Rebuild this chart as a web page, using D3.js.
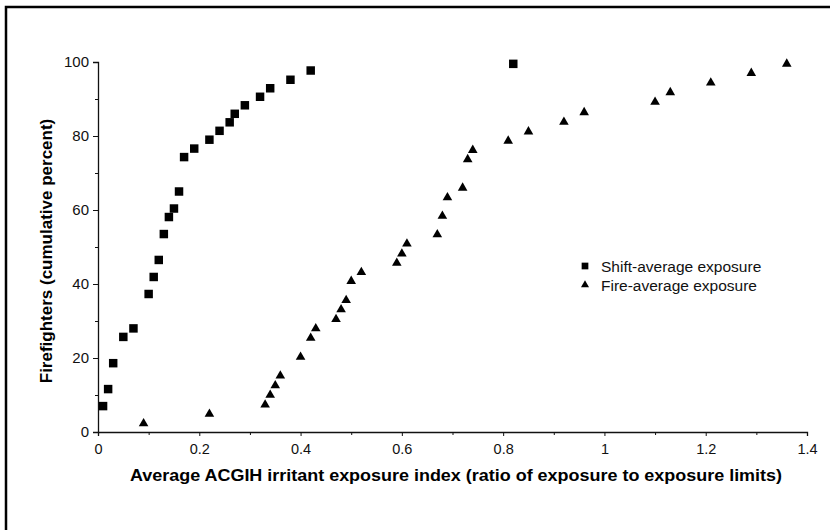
<!DOCTYPE html>
<html>
<head>
<meta charset="utf-8">
<script src="https://cdn.jsdelivr.net/npm/d3@7"></script>
<style>
  body { margin: 0; background: #fff; }
  svg { display: block; font-family: "Liberation Sans", Arial, sans-serif; }
</style>
</head>
<body>
<div id="svgTarget"></div>
<script>
// shift-average exposure (x = index, y = cumulative percent)
const shiftX = [0.01, 0.02, 0.03, 0.05, 0.07, 0.10, 0.11, 0.12, 0.13, 0.14, 0.15, 0.16,
  0.17, 0.19, 0.22, 0.24, 0.26, 0.27, 0.29, 0.32, 0.34, 0.38, 0.42, 0.82];
const shiftY = [7.0, 11.6, 18.6, 25.7, 28.0, 37.3, 41.9, 46.5, 53.5, 58.1, 60.4, 65.0,
  74.3, 76.6, 79.0, 81.4, 83.7, 86.0, 88.3, 90.6, 92.9, 95.2, 97.7, 99.5];

// fire-average exposure
const fireX = [0.09, 0.22, 0.33, 0.34, 0.35, 0.36, 0.40, 0.42, 0.43, 0.47, 0.48, 0.49,
  0.50, 0.52, 0.59, 0.60, 0.61, 0.67, 0.68, 0.69, 0.72, 0.73, 0.74, 0.81, 0.85, 0.92,
  0.96, 1.10, 1.13, 1.21, 1.29, 1.36];
const fireY = [2.5, 5.1, 7.6, 10.2, 12.8, 15.4, 20.5, 25.6, 28.2, 30.7, 33.3, 35.8,
  41.0, 43.4, 45.9, 48.4, 51.1, 53.6, 58.6, 63.6, 66.2, 73.9, 76.4, 78.9, 81.4, 84.0,
  86.6, 89.4, 92.0, 94.6, 97.2, 99.7];

const xTicks = [0, 0.2, 0.4, 0.6, 0.8, 1, 1.2, 1.4];
const xMinor = [0.1, 0.3, 0.5, 0.7, 0.9, 1.1, 1.3];
const yTicks = [0, 20, 40, 60, 80, 100];
const yMinor = [10, 30, 50, 70, 90];

const legendLabels = ["Shift-average exposure", "Fire-average exposure"];

const width = 830, height = 530;

const svg = d3.select("#svgTarget")
  .append("svg")
    .attr("width", width)
    .attr("height", height);

// frame round the figure (right and bottom edges run off the page)
svg.append("rect")
  .attr("x", 6)
  .attr("y", 7)
  .attr("width", 900)
  .attr("height", 600)
  .attr("fill", "none")
  .attr("stroke", "#000")
  .attr("stroke-width", 2.5);

const x = d3.scaleLinear().domain([0, 1.4]).range([98, 807]);
const y = d3.scaleLinear().domain([0, 100]).range([432, 62]);

// axes
const yAxis = svg.append("g")
  .attr("transform", `translate(${x(0)},0)`)
  .call(d3.axisLeft(y).tickValues(yTicks).tickSize(5).tickPadding(4).tickFormat(d3.format("d")));
yAxis.selectAll("text").attr("font-size", 15).attr("fill", "#111");

svg.append("g")
  .attr("transform", `translate(${x(0)},0)`)
  .call(d3.axisLeft(y).tickValues(yMinor).tickSize(3).tickFormat(""))
  .select(".domain").remove();

const xAxis = svg.append("g")
  .attr("transform", `translate(0,${y(0)})`)
  .call(d3.axisBottom(x).tickValues(xTicks).tickSize(4).tickPadding(8).tickFormat(d => d));
xAxis.selectAll("text").attr("font-size", 14.5).attr("fill", "#111");

svg.append("g")
  .attr("transform", `translate(0,${y(0)})`)
  .call(d3.axisBottom(x).tickValues(xMinor).tickSize(3).tickFormat(""))
  .select(".domain").remove();

svg.selectAll(".domain").attr("stroke", "#111").attr("stroke-width", 1.3);
svg.selectAll(".tick line").attr("stroke", "#111");

// axis titles
svg.append("text")
  .attr("x", 456)
  .attr("y", 481)
  .attr("text-anchor", "middle")
  .attr("font-size", 16)
  .attr("font-weight", "bold")
  .attr("textLength", 652)
  .attr("lengthAdjust", "spacingAndGlyphs")
  .text("Average ACGIH irritant exposure index (ratio of exposure to exposure limits)");

svg.append("text")
  .attr("transform", `translate(52,${251}) rotate(-90)`)
  .attr("text-anchor", "middle")
  .attr("font-size", 17)
  .attr("font-weight", "bold")
  .text("Firefighters (cumulative percent)");

// points
const shift = shiftX.map((v, i) => ({ x: v, y: shiftY[i] }));
const fire = fireX.map((v, i) => ({ x: v, y: fireY[i] }));

const squareSym = d3.symbol().type(d3.symbolSquare).size(72);
const triSym = d3.symbol().type(d3.symbolTriangle).size(40);

svg.append("g").selectAll("path")
  .data(shift)
  .enter()
  .append("path")
    .attr("d", squareSym)
    .attr("transform", d => `translate(${x(d.x)},${y(d.y)})`)
    .attr("fill", "#000");

svg.append("g").selectAll("path")
  .data(fire)
  .enter()
  .append("path")
    .attr("d", triSym)
    .attr("transform", d => `translate(${x(d.x)},${y(d.y) + 0.8})`)
    .attr("fill", "#000");

// legend
const legend = svg.append("g").attr("transform", "translate(585,266)");
legend.append("path")
  .attr("d", d3.symbol().type(d3.symbolSquare).size(45))
  .attr("fill", "#000");
legend.append("path")
  .attr("d", d3.symbol().type(d3.symbolTriangle).size(28))
  .attr("transform", "translate(0,19)")
  .attr("fill", "#000");
legend.selectAll("text")
  .data(legendLabels)
  .enter()
  .append("text")
    .attr("x", 16)
    .attr("y", (d, i) => 6 + i * 18.5)
    .attr("font-size", 15.5)
    .attr("fill", "#111")
    .text(d => d);
</script>
</body>
</html>
